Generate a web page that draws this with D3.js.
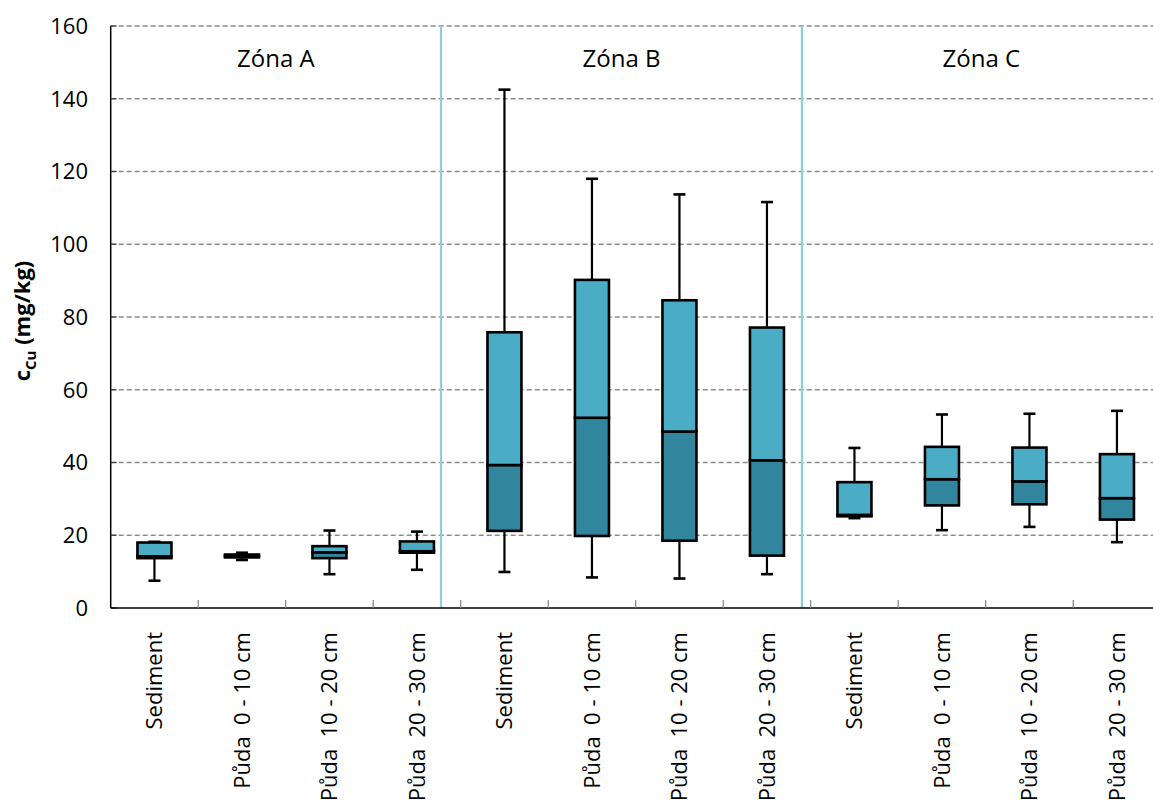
<!DOCTYPE html>
<html>
<head>
<meta charset="utf-8">
<script src="https://cdn.jsdelivr.net/npm/d3@7"></script>
<style>
  body { margin: 0; background: #fff; }
  svg text { font-family: "Open Sans", "Noto Sans", sans-serif; fill: #000; }
</style>
</head>
<body>
<svg id="chart" width="1153" height="812"></svg>
<script>
// Copper content (mg/kg) by sampling zone and material
const categories = [
  "Sediment", "Půda  0 - 10 cm", "Půda  10 - 20 cm", "Půda  20 - 30 cm",
  "Sediment", "Půda  0 - 10 cm", "Půda  10 - 20 cm", "Půda  20 - 30 cm",
  "Sediment", "Půda  0 - 10 cm", "Půda  10 - 20 cm", "Půda  20 - 30 cm"
];
const zones = ["Zóna A", "Zóna B", "Zóna C"];
// zone limits, in category units
const zoneBounds = [0, 3.775, 7.9, 12];

const minVals    = [7.5, 13.2,  9.3, 10.5,   9.9,  8.4,  8.1,  9.3,  24.7, 21.4, 22.3, 18.1];
const q1Vals     = [13.7, 13.9, 13.7, 15.2,  21.2, 19.8, 18.5, 14.4,  25.2, 28.2, 28.5, 24.3];
const medianVals = [14.2, 14.3, 15.3, 15.6,  39.3, 52.3, 48.5, 40.6,  25.6, 35.4, 34.8, 30.2];
const q3Vals     = [18.0, 14.7, 17.0, 18.3,  75.8, 90.2, 84.6, 77.1,  34.6, 44.3, 44.1, 42.3];
const maxVals    = [18.2, 15.2, 21.3, 21.0, 142.5, 118.0, 113.7, 111.6, 44.0, 53.2, 53.4, 54.2];

const yTicks = [0, 20, 40, 60, 80, 100, 120, 140, 160];

const svg = d3.select("#chart");
const plotLeft = 110.7, plotTop = 26, plotBottom = 608, bandW = 87.5;
const plotRight = plotLeft + bandW * categories.length;

const x = d3.scaleBand().domain(d3.range(categories.length)).range([plotLeft, plotRight]).padding(0);
const xPos = d3.scaleLinear().domain([0, categories.length]).range([plotLeft, plotRight]);
const y = d3.scaleLinear().domain([0, 160]).range([plotBottom, plotTop]);

// dashed horizontal gridlines
svg.append("g").selectAll("line").data(yTicks.filter(v => v > 0)).join("line")
  .attr("x1", plotLeft).attr("x2", plotRight)
  .attr("y1", d => y(d)).attr("y2", d => y(d))
  .attr("stroke", "#8c8c8c").attr("stroke-width", 1.3)
  .attr("stroke-dasharray", "5,3");

// zone separators
svg.append("g").selectAll("line").data(zoneBounds.slice(1, -1)).join("line")
  .attr("x1", d => xPos(d)).attr("x2", d => xPos(d))
  .attr("y1", plotTop).attr("y2", plotBottom)
  .attr("stroke", "#92cddc").attr("stroke-width", 2.2);

// zone titles
svg.append("g").selectAll("text").data(zones).join("text")
  .attr("x", (d, i) => xPos((zoneBounds[i] + zoneBounds[i + 1]) / 2))
  .attr("y", 67)
  .attr("text-anchor", "middle")
  .attr("font-size", 24)
  .text(d => d);

// y axis
const yAxis = svg.append("g");
yAxis.append("line").attr("x1", plotLeft).attr("x2", plotLeft).attr("y1", plotTop).attr("y2", plotBottom)
  .attr("stroke", "#000").attr("stroke-width", 1.5);
yAxis.selectAll("line.tick").data(yTicks).join("line").attr("class", "tick")
  .attr("x1", plotLeft).attr("x2", plotLeft + 6).attr("y1", d => y(d)).attr("y2", d => y(d))
  .attr("stroke", "#404040").attr("stroke-width", 1.2);
yAxis.selectAll("text").data(yTicks).join("text")
  .attr("x", 88).attr("y", d => y(d)).attr("dy", "0.36em")
  .attr("text-anchor", "end").attr("font-size", 22)
  .text(d => d);

// x axis
const xAxis = svg.append("g");
xAxis.append("line").attr("x1", plotLeft).attr("x2", plotRight).attr("y1", plotBottom).attr("y2", plotBottom)
  .attr("stroke", "#000").attr("stroke-width", 1.5);
xAxis.selectAll("line.tick").data(d3.range(1, categories.length)).join("line").attr("class", "tick")
  .attr("x1", d => xPos(d)).attr("x2", d => xPos(d))
  .attr("y1", plotBottom).attr("y2", plotBottom - 8)
  .attr("stroke", "#808080").attr("stroke-width", 1.2);
xAxis.selectAll("text").data(categories).join("text")
  .attr("transform", (d, i) => `translate(${x(i) + x.bandwidth() / 2},632) rotate(-90)`)
  .attr("dy", "0.36em")
  .attr("text-anchor", "end").attr("font-size", 22)
  .style("white-space", "pre")
  .text(d => d);

// y axis title
const yTitle = svg.append("text")
  .attr("transform", "translate(30,321) rotate(-90)")
  .attr("text-anchor", "middle")
  .attr("font-size", 22).attr("font-weight", "bold");
yTitle.append("tspan").text("c");
yTitle.append("tspan").attr("font-size", 15).attr("dy", 6).text("Cu");
yTitle.append("tspan").attr("dy", -6).text(" (mg/kg)");

// box plots
const idx = d3.range(categories.length);
const cx = i => x(i) + x.bandwidth() / 2;
const boxW = 34, capW = 12;
const g = svg.append("g");

// whiskers
g.selectAll("line.wu").data(idx).join("line").attr("class", "wu")
  .attr("x1", cx).attr("x2", cx).attr("y1", i => y(q3Vals[i])).attr("y2", i => y(maxVals[i]))
  .attr("stroke", "#000").attr("stroke-width", 2.2);
g.selectAll("line.wl").data(idx).join("line").attr("class", "wl")
  .attr("x1", cx).attr("x2", cx).attr("y1", i => y(q1Vals[i])).attr("y2", i => y(minVals[i]))
  .attr("stroke", "#000").attr("stroke-width", 2.2);
g.selectAll("line.cu").data(idx).join("line").attr("class", "cu")
  .attr("x1", i => cx(i) - capW / 2).attr("x2", i => cx(i) + capW / 2)
  .attr("y1", i => y(maxVals[i])).attr("y2", i => y(maxVals[i]))
  .attr("stroke", "#000").attr("stroke-width", 2.6);
g.selectAll("line.cl").data(idx).join("line").attr("class", "cl")
  .attr("x1", i => cx(i) - capW / 2).attr("x2", i => cx(i) + capW / 2)
  .attr("y1", i => y(minVals[i])).attr("y2", i => y(minVals[i]))
  .attr("stroke", "#000").attr("stroke-width", 2.6);

// lower box: Q1 – median
g.selectAll("rect.lo").data(idx).join("rect").attr("class", "lo")
  .attr("x", i => cx(i) - boxW / 2).attr("width", boxW)
  .attr("y", i => y(medianVals[i])).attr("height", i => y(q1Vals[i]) - y(medianVals[i]))
  .attr("fill", "#31859c").attr("stroke", "#000").attr("stroke-width", 2.6);
// upper box: median – Q3
g.selectAll("rect.hi").data(idx).join("rect").attr("class", "hi")
  .attr("x", i => cx(i) - boxW / 2).attr("width", boxW)
  .attr("y", i => y(q3Vals[i])).attr("height", i => y(medianVals[i]) - y(q3Vals[i]))
  .attr("fill", "#4bacc6").attr("stroke", "#000").attr("stroke-width", 2.6);
</script>
</body>
</html>
